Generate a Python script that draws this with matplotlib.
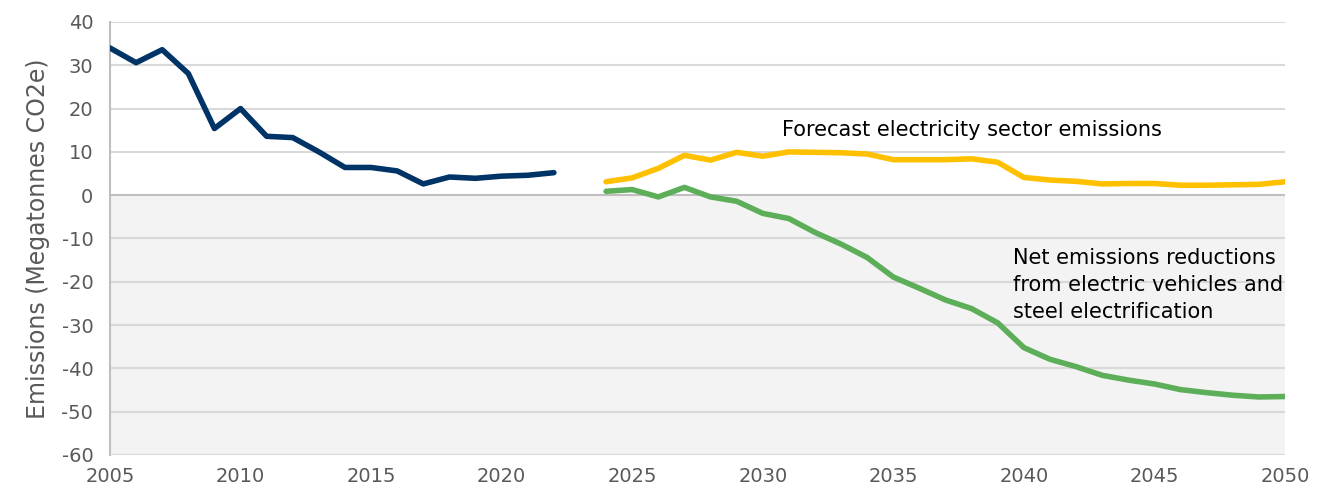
import matplotlib.pyplot as plt
import numpy as np

plt.rcParams["font.family"] = ["DejaVu Sans"]
plt.rcParams["axes.unicode_minus"] = False

# ====== data ======
hist_years = list(range(2005, 2023))
hist_vals = [34.0, 30.6, 33.6, 28.1, 15.4, 20.0, 13.6, 13.3, 10.0, 6.4,
             6.4, 5.6, 2.6, 4.2, 3.9, 4.4, 4.6, 5.2]

fc_years = list(range(2024, 2051))
elec_vals = [3.1, 4.0, 6.2, 9.2, 8.1, 9.9, 9.0, 10.0, 9.9, 9.8, 9.5, 8.2,
             8.2, 8.2, 8.4, 7.6, 4.1, 3.5, 3.2, 2.6, 2.7, 2.7, 2.3, 2.3,
             2.4, 2.5, 3.1]
net_vals = [0.9, 1.3, -0.4, 1.8, -0.4, -1.4, -4.2, -5.4, -8.6, -11.3,
            -14.4, -18.9, -21.5, -24.2, -26.2, -29.5, -35.2, -37.9, -39.6,
            -41.6, -42.7, -43.6, -44.9, -45.6, -46.2, -46.6, -46.5]

# ====== colours ======
c_hist = "#003366"
c_elec = "#FFC000"
c_net = "#5DAE59"
c_grid = "#D9D9D9"
c_tick = "#595959"

fig = plt.figure(figsize=(13.22, 4.93), dpi=100)
ax = fig.add_axes([0.0832, 0.0771, 0.8888, 0.8783])

ax.axhspan(-60, 0, color="#F3F3F3", zorder=0, lw=0)
for yv in range(-60, 41, 10):
    ax.axhline(yv, color="#BFBFBF" if yv == 0 else c_grid,
               lw=1.5, zorder=1)

for xs, ys, c in [(hist_years, hist_vals, c_hist),
                  (fc_years, elec_vals, c_elec),
                  (fc_years, net_vals, c_net)]:
    ax.plot(xs, ys, color=c, lw=4, zorder=3,
            solid_capstyle="round", solid_joinstyle="round")

ax.text(2038.0, 15, "Forecast electricity sector emissions",
        fontsize=15, color="black", ha="center", va="center")
ax.text(2039.6, -12.3,
        "Net emissions reductions\nfrom electric vehicles and\nsteel electrification",
        fontsize=15, color="black", ha="left", va="top", linespacing=1.42)

ax.set_xlim(2005, 2050)
ax.set_ylim(-60, 40)
ax.set_xticks(range(2005, 2051, 5))
ax.set_yticks(range(-60, 41, 10))
ax.tick_params(axis="both", length=0, labelsize=14, colors=c_tick)
ax.tick_params(axis="x", pad=9)
ax.tick_params(axis="y", pad=12)
ax.set_ylabel("Emissions (Megatonnes CO2e)", fontsize=17, color=c_tick,
              labelpad=8)

for s in ["top", "right", "bottom"]:
    ax.spines[s].set_visible(False)
ax.spines["left"].set_color("#BFBFBF")
ax.spines["left"].set_linewidth(1.5)

fig.savefig("out.png", dpi=100, facecolor="white")
